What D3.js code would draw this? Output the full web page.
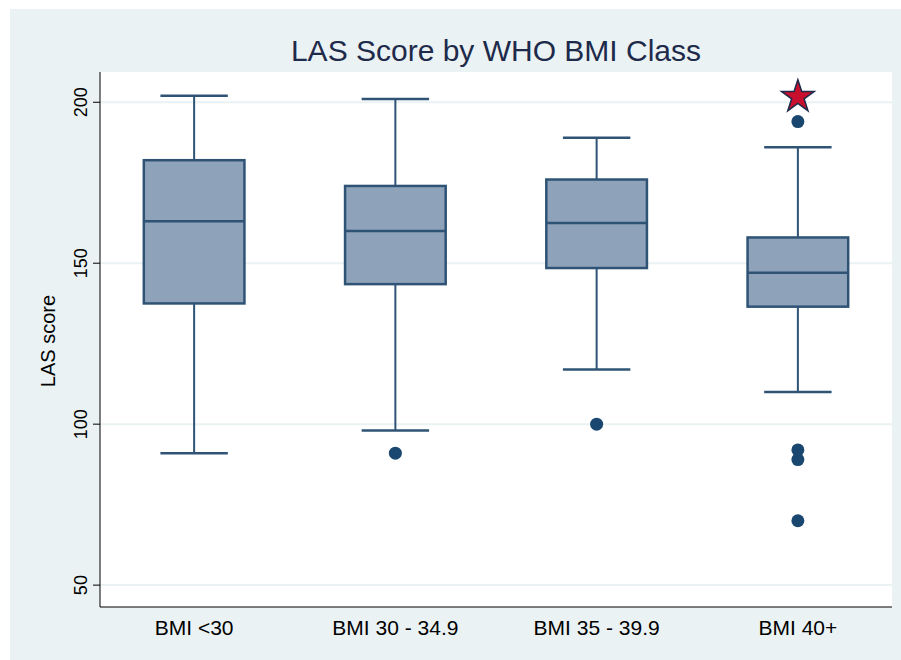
<!DOCTYPE html>
<html>
<head>
<meta charset="utf-8">
<script src="https://cdn.jsdelivr.net/npm/d3@7"></script>
<style>
  body { margin: 0; background: #fff; }
  text { font-family: "Liberation Sans", Arial, sans-serif; }
</style>
</head>
<body>
<div id="root"></div>
<script>
var categories = ['BMI <30', 'BMI 30 - 34.9', 'BMI 35 - 39.9', 'BMI 40+'];
var whiskerHigh = [202, 201, 189, 186];
var q3 = [182, 174, 176, 158];
var median = [163, 160, 162.5, 147];
var q1 = [137.5, 143.5, 148.5, 136.5];
var whiskerLow = [91, 98, 117, 110];
var outliers = [[], [91], [100], [194, 92, 89, 70]];
var starValue = { cat: 'BMI 40+', value: 202 };
var yTicks = [50, 100, 150, 200];

var width = 901;
var height = 660;
var plot = { left: 100, right: 892, top: 72, bottom: 607 };

var svg = d3.select('#root')
    .append('svg')
    .attr('width', width).attr('height', height);

svg.append('rect')
    .attr('x', 10).attr('y', 9)
    .attr('width', width - 10).attr('height', height - 9)
    .attr('fill', '#eaf2f3');

svg.append('rect')
    .attr('x', plot.left).attr('y', plot.top)
    .attr('width', plot.right - plot.left).attr('height', plot.bottom - plot.top)
    .attr('fill', '#ffffff');

// boxes sit a bit wider apart than the plot area would give evenly
var xScale = d3.scaleBand()
    .domain(categories)
    .range([93.5, 898.5])
    .paddingInner(0.5)
    .paddingOuter(0.25);

var yScale = d3.scaleLinear()
    .domain([43.2, 209.4])
    .range([plot.bottom, plot.top]);

// grid lines
svg.selectAll('.grid')
    .data(yTicks).enter()
    .append('line')
    .attr('class', 'grid')
    .attr('x1', plot.left).attr('x2', plot.right)
    .attr('y1', function (d) { return yScale(d); })
    .attr('y2', function (d) { return yScale(d); })
    .attr('stroke', '#eaf2f3')
    .attr('stroke-width', 2);

var boxColor = '#8ea3ba';
var lineColor = '#2f5375';
var bw = xScale.bandwidth();
var capW = bw * 0.67;

var groups = svg.selectAll('.box')
    .data(categories).enter()
    .append('g')
    .attr('class', 'box');

// whiskers
groups.append('line')
    .attr('x1', function (d) { return xScale(d) + bw / 2; })
    .attr('x2', function (d) { return xScale(d) + bw / 2; })
    .attr('y1', function (d, i) { return yScale(whiskerHigh[i]); })
    .attr('y2', function (d, i) { return yScale(q3[i]); })
    .attr('stroke', lineColor).attr('stroke-width', 2);
groups.append('line')
    .attr('x1', function (d) { return xScale(d) + bw / 2; })
    .attr('x2', function (d) { return xScale(d) + bw / 2; })
    .attr('y1', function (d, i) { return yScale(q1[i]); })
    .attr('y2', function (d, i) { return yScale(whiskerLow[i]); })
    .attr('stroke', lineColor).attr('stroke-width', 2);
// caps
[whiskerHigh, whiskerLow].forEach(function (arr) {
    groups.append('line')
        .attr('x1', function (d) { return xScale(d) + bw / 2 - capW / 2; })
        .attr('x2', function (d) { return xScale(d) + bw / 2 + capW / 2; })
        .attr('y1', function (d, i) { return yScale(arr[i]); })
        .attr('y2', function (d, i) { return yScale(arr[i]); })
        .attr('stroke', lineColor).attr('stroke-width', 2.5);
});

// boxes
groups.append('rect')
    .attr('x', function (d) { return xScale(d); })
    .attr('y', function (d, i) { return yScale(q3[i]); })
    .attr('width', bw)
    .attr('height', function (d, i) { return yScale(q1[i]) - yScale(q3[i]); })
    .attr('fill', boxColor)
    .attr('stroke', lineColor).attr('stroke-width', 2.5);

groups.append('line')
    .attr('x1', function (d) { return xScale(d); })
    .attr('x2', function (d) { return xScale(d) + bw; })
    .attr('y1', function (d, i) { return yScale(median[i]); })
    .attr('y2', function (d, i) { return yScale(median[i]); })
    .attr('stroke', lineColor).attr('stroke-width', 2.5);

// outliers
var pts = [];
categories.forEach(function (c, i) {
    outliers[i].forEach(function (v) { pts.push({ cat: c, value: v }); });
});
svg.selectAll('.outlier')
    .data(pts).enter()
    .append('circle')
    .attr('class', 'outlier')
    .attr('cx', function (d) { return xScale(d.cat) + bw / 2; })
    .attr('cy', function (d) { return yScale(d.value); })
    .attr('r', 6.5)
    .attr('fill', '#1a476f');

// star marker
svg.append('path')
    .attr('d', d3.symbol().type(d3.symbolStar).size(330)())
    .attr('transform', 'translate(' + (xScale(starValue.cat) + bw / 2) + ',' + (yScale(starValue.value) + 1) + ')')
    .attr('fill', '#c8102e')
    .attr('stroke', '#1e2a4a')
    .attr('stroke-width', 1.5);

// axes
var yAxis = d3.axisLeft(yScale).tickValues(yTicks).tickSize(7);
var gy = svg.append('g')
    .attr('transform', 'translate(' + plot.left + ',0)')
    .call(yAxis);
gy.select('.domain').attr('d', 'M0,' + plot.top + 'V' + plot.bottom).attr('stroke', '#000');
gy.selectAll('.tick').attr('transform', null);
gy.selectAll('.tick line')
    .attr('stroke', '#000')
    .attr('y1', function (d) { return yScale(d); })
    .attr('y2', function (d) { return yScale(d); });
gy.selectAll('.tick text')
    .attr('x', -13)
    .attr('y', function (d) { return yScale(d); })
    .attr('dy', '0')
    .attr('transform', function (d) { return 'rotate(-90,-13,' + yScale(d) + ')'; })
    .attr('text-anchor', 'middle')
    .style('font-size', '18px')
    .attr('fill', '#000');

var xAxis = d3.axisBottom(xScale).tickSize(0).tickPadding(13);
var gx = svg.append('g')
    .attr('transform', 'translate(0,' + plot.bottom + ')')
    .call(xAxis);
gx.select('.domain').attr('d', 'M' + plot.left + ',0H' + plot.right).attr('stroke', '#000');
gx.selectAll('.tick text')
    .style('font-size', '21px')
    .attr('fill', '#000');

// labels
svg.append('text')
    .attr('transform', 'translate(55,' + 341 + ') rotate(-90)')
    .attr('text-anchor', 'middle')
    .style('font-size', '20px')
    .text('LAS score');

svg.append('text')
    .attr('x', (plot.left + plot.right) / 2)
    .attr('y', 61)
    .attr('text-anchor', 'middle')
    .style('font-size', '30px')
    .attr('fill', '#1e2a4a')
    .text('LAS Score by WHO BMI Class');
</script>
</body>
</html>
